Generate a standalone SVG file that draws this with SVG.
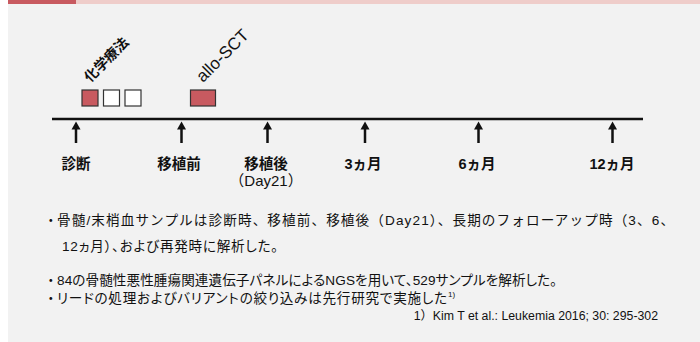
<svg xmlns="http://www.w3.org/2000/svg" width="700" height="342" viewBox="0 0 700 342">
<defs>
<style>
.t{font-family:"Liberation Sans","Noto Sans CJK JP",sans-serif;fill:#111}
.p{font-feature-settings:"palt"}
.lbl{font-size:14.5px;font-weight:bold;text-anchor:middle}
.lbn{font-size:15px;text-anchor:middle}
.body{font-size:13.6px}
.ax{stroke:#111;stroke-width:2.5;fill:none}
.ah{fill:#111}
.sq{stroke:#333;stroke-width:1.2}
</style>
</defs>
<rect x="0" y="0" width="700" height="342" fill="#ffffff"/>
<rect x="8" y="0" width="692" height="342" fill="#f2f2f2"/>
<rect x="8" y="0" width="68" height="4" fill="#c85a60"/>
<rect x="76" y="0" width="624" height="4" fill="#efcdca"/>

<g id="therapy">
<text class="t" font-size="14" font-weight="bold" transform="translate(90,83) rotate(-45)">化学療法</text>
<rect class="sq" x="82" y="90" width="16" height="16" fill="#c85a60"/>
<rect class="sq" x="103.5" y="90" width="16" height="16" fill="#ffffff"/>
<rect class="sq" x="125" y="90" width="16" height="16" fill="#ffffff"/>
</g>
<g id="sct">
<text class="t" font-size="17" transform="translate(203,83) rotate(-45)">allo-SCT</text>
<rect class="sq" x="190.5" y="90" width="25" height="16" fill="#c85a60"/>
</g>

<g id="connectors">
<line class="ax" x1="52" y1="119" x2="643" y2="119"/>
<line class="ax" x1="76" y1="143" x2="76" y2="128"/><polygon class="ah" points="71.5,129.5 76,121.5 80.5,129.5"/>
<line class="ax" x1="181.5" y1="143" x2="181.5" y2="128"/><polygon class="ah" points="177,129.5 181.5,121.5 186,129.5"/>
<line class="ax" x1="267.5" y1="143" x2="267.5" y2="128"/><polygon class="ah" points="263,129.5 267.5,121.5 272,129.5"/>
<line class="ax" x1="365" y1="143" x2="365" y2="128"/><polygon class="ah" points="360.5,129.5 365,121.5 369.5,129.5"/>
<line class="ax" x1="478.5" y1="143" x2="478.5" y2="128"/><polygon class="ah" points="474,129.5 478.5,121.5 483,129.5"/>
<line class="ax" x1="612.5" y1="143" x2="612.5" y2="128"/><polygon class="ah" points="608,129.5 612.5,121.5 617,129.5"/>
</g>

<g id="n-diag"><text class="t lbl" x="76" y="169">診断</text></g>
<g id="n-pre"><text class="t lbl" x="179" y="169">移植前</text></g>
<g id="n-post"><text class="t lbl" x="266" y="169">移植後</text><text class="t lbn" x="266" y="186">（Day21）</text></g>
<g id="n-3m"><text class="t lbl" x="363" y="169">3ヵ月</text></g>
<g id="n-6m"><text class="t lbl" x="477" y="169">6ヵ月</text></g>
<g id="n-12m"><text class="t lbl" x="612" y="169">12ヵ月</text></g>

<g id="notes">
<text class="t body" x="44" y="225">・</text>
<text class="t body" x="57" y="225" textLength="617" lengthAdjust="spacing">骨髄/末梢血サンプルは診断時、移植前、移植後（Day21）、長期のフォローアップ時（3、6、</text>
<text class="t body p" x="62" y="251" textLength="216" lengthAdjust="spacing">12ヵ月）、および再発時に解析した。</text>
<text class="t body" x="44" y="285">・</text>
<text class="t body p" x="57" y="285" textLength="500" lengthAdjust="spacing">84の骨髄性悪性腫瘍関連遺伝子パネルによるNGSを用いて、529サンプルを解析した。</text>
<text class="t body" x="44" y="303">・</text>
<text class="t body p" x="57" y="303" textLength="390" lengthAdjust="spacing">リードの処理およびバリアントの絞り込みは先行研究で実施した</text>
<text class="t" font-size="8" x="448" y="297">1)</text>
<text class="t" font-size="12.3" x="658" y="320" text-anchor="end">1）Kim T et al.: Leukemia 2016; 30: 295-302</text>
</g>
</svg>
